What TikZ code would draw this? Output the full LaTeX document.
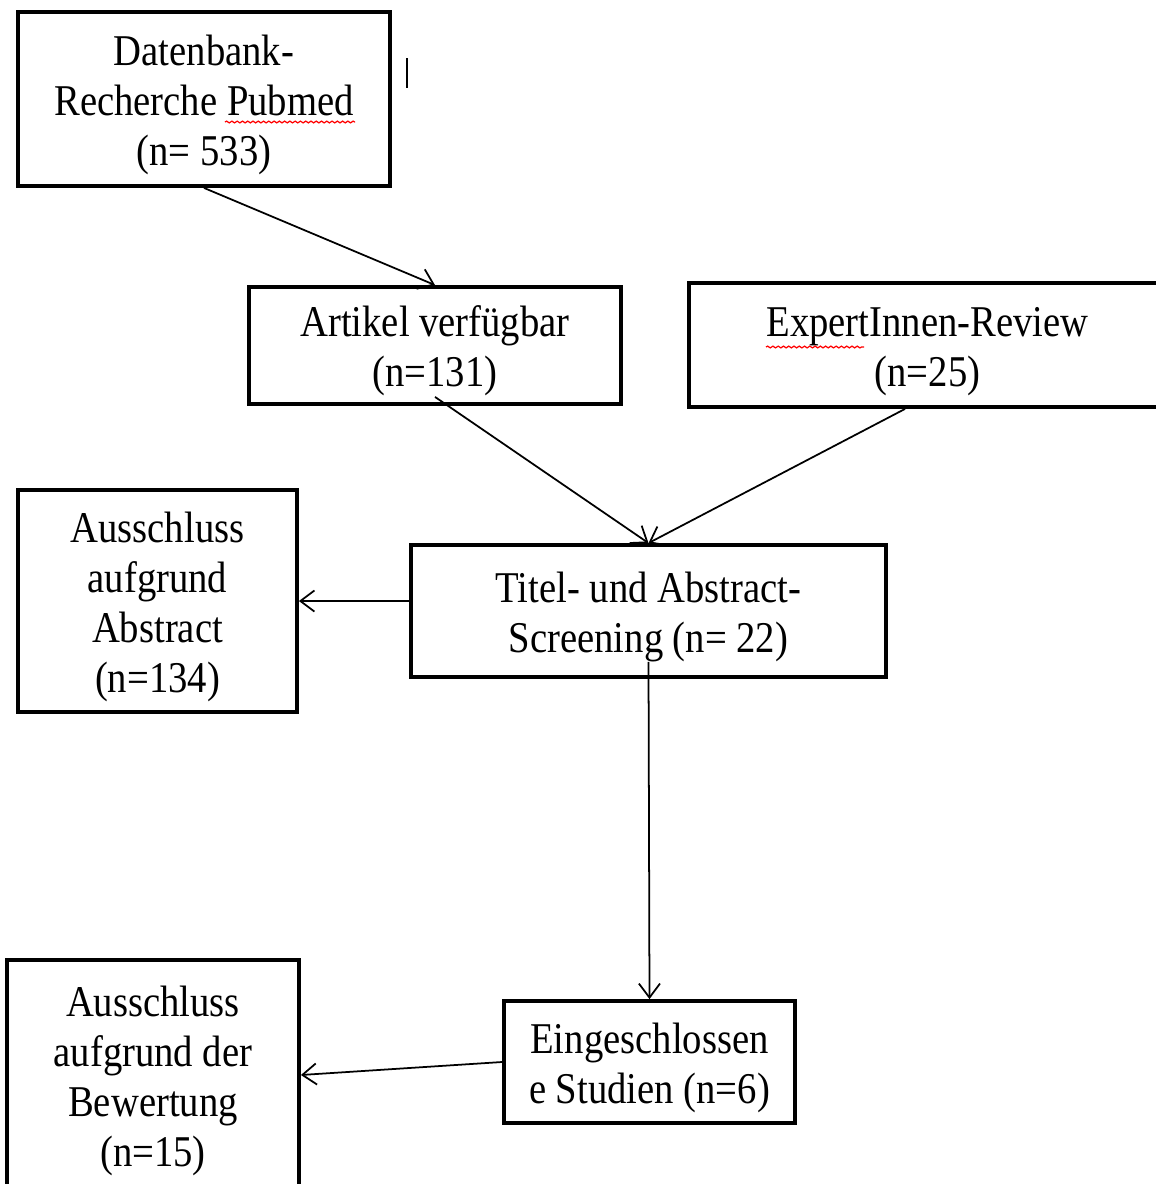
\documentclass[tikz,border=0pt]{standalone}
\usepackage{fontspec}
\setmainfont{Liberation Serif}[FakeStretch=0.88]
\usetikzlibrary{arrows.meta,decorations.pathmorphing}

\newcommand{\topstrut}{\rule{0pt}{24pt}}
\tikzset{
    box/.style={draw, line width=2.2pt, align=center, inner sep=0pt,
        font=\fontsize{25}{28.5}\selectfont},
    link/.style={line width=1pt, -{Straight Barb[length=8pt,width=12pt]}},
    spell/.style={red, line width=0.7pt, decorate,
        decoration={snake, amplitude=0.5pt, segment length=3pt}}
}

\begin{document}
\begin{tikzpicture}[x=0.02cm, y=-0.02cm]
            \useasboundingbox (0,0) rectangle (1156,1184);
            \node [box, minimum width=7.44cm, minimum height=3.48cm] (db)
                at (204,99) {\topstrut Datenbank-\\Recherche Pubmed\\(n= 533)};
            \node [box, minimum width=7.44cm, minimum height=2.34cm] (art)
                at (435,345.5) {\topstrut Artikel verfügbar\\(n=131)};
            \node [box, minimum width=9.54cm, minimum height=2.48cm] (exp)
                at (927.5,345) {\topstrut ExpertInnen-Review\\(n=25)};
            \node [box, minimum width=9.5cm, minimum height=2.64cm] (scr)
                at (648.5,611) {\topstrut Titel- und Abstract-\\Screening (n= 22)};
            \node [box, minimum width=5.58cm, minimum height=4.44cm] (exabs)
                at (157.5,601) {\topstrut Ausschluss\\aufgrund\\Abstract\\(n=134)};
            \node [box, minimum width=5.82cm, minimum height=2.44cm] (incl)
                at (649.5,1062) {\topstrut Eingeschlossen\\e Studien (n=6)};
            \node [box, minimum width=5.84cm, minimum height=4.6cm] (exrat)
                at (153,1075) {\topstrut Ausschluss\\aufgrund der\\Bewertung\\(n=15)};
            \coordinate (expout) at ([xshift=-0.45cm]exp.south);
            \coordinate (scrout) at ([yshift=0.34cm]scr.south);
            \draw [link] (db.south) -- (art.north);
            \draw [link] ([yshift=0.18cm]art.south) -- (scr.north);
            \draw [link] (expout) -- (scr.north);
            \draw [link] (scr.west |- exabs.east) -- (exabs.east);
            \draw [link] (scrout) -- (incl.north);
            \draw [link] (incl.west) -- (exrat.east);
            % spell-check marks and stray cursor
            \draw [spell] (225,122) -- (355,122);
            \draw [spell] (766,347) -- (864,347);
            \draw [line width=0.9pt] (407,58) -- (407,88);
        \end{tikzpicture}
\end{document}
